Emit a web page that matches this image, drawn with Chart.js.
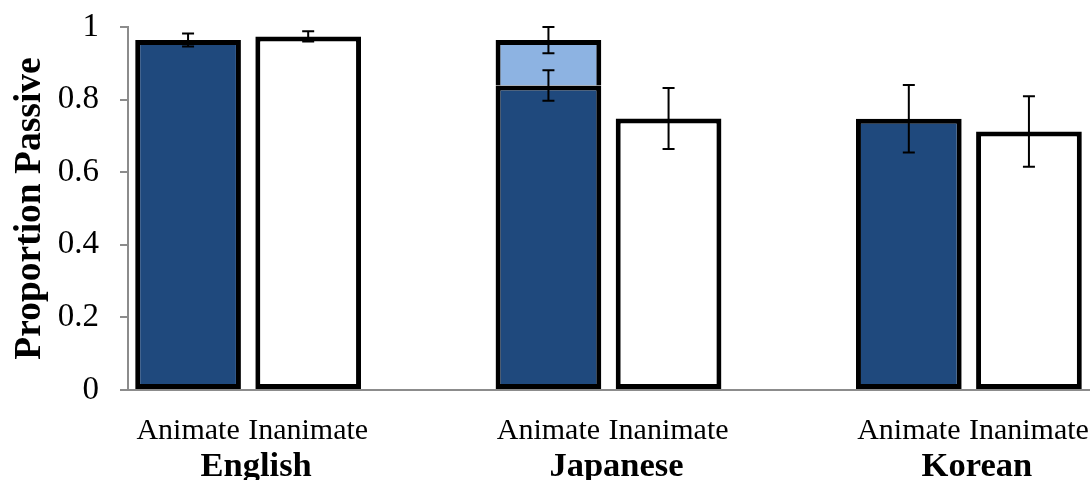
<!DOCTYPE html>
<html>
<head>
<meta charset="utf-8">
<script src="https://cdn.jsdelivr.net/npm/chart.js@4/dist/chart.umd.min.js"></script>
<style>
  body { margin: 0; background: #fff; }
  #wrap { width: 1092px; height: 480px; }
</style>
</head>
<body>
<div id="wrap"><canvas id="passiveChart" width="1092" height="480"></canvas></div>
<script>
// categories along the x axis (blank ones are the gaps between languages)
var categories = ['Animate', 'Inanimate', '', 'Animate', 'Inanimate', '', 'Animate', 'Inanimate'];
var groupNames = ['English', 'Japanese', 'Korean'];
var groupCentres = [0.5, 3.5, 6.5];

// proportion passive per bar, and the extra light segment on Japanese animate
var baseValues = [0.964, 0.974, null, 0.839, 0.748, null, 0.747, 0.712];
var extraValues = [null, null, null, 0.125, null, null, null, null];

// +/- error for each segment
var baseErrors = [0.018, 0.014, null, 0.042, 0.084, null, 0.093, 0.097];
var extraErrors = [null, null, null, 0.036, null, null, null, null];

var yTicks = [0, 0.2, 0.4, 0.6, 0.8, 1];

var darkBlue = '#1f497d';
var lightBlue = '#8db3e2';
var serif = "'Liberation Serif', 'Times New Roman', serif";

// draws the error bars on top of the stacked bars
var errorBarPlugin = {
    id: 'errorBars',
    afterDatasetsDraw: function(chart) {
        var ctx = chart.ctx;
        var x = chart.scales.x;
        var y = chart.scales.y;
        var sets = [[baseValues, baseErrors, null], [extraValues, extraErrors, baseValues]];
        ctx.save();
        ctx.strokeStyle = '#000';
        ctx.lineWidth = 2;
        sets.forEach(function(s) {
            s[0].forEach(function(v, i) {
                if (v === null || s[1][i] === null) return;
                var top = v + (s[2] ? s[2][i] : 0);
                var px = x.getPixelForValue(i);
                var hi = y.getPixelForValue(top + s[1][i]);
                var lo = y.getPixelForValue(top - s[1][i]);
                ctx.beginPath();
                ctx.moveTo(px, hi); ctx.lineTo(px, lo);
                ctx.moveTo(px - 6, hi); ctx.lineTo(px + 6, hi);
                ctx.moveTo(px - 6, lo); ctx.lineTo(px + 6, lo);
                ctx.stroke();
            });
        });
        ctx.restore();
    }
};

// axes should not push the plot area around; layout padding sets it
function noXPadding(scale) { scale.paddingLeft = 0; scale.paddingRight = 0; }

var ctx = document.getElementById('passiveChart').getContext('2d');

var passiveChart = new Chart(ctx, {
    type: 'bar',
    data: {
        labels: categories,
        datasets: [{
            label: 'base',
            data: baseValues,
            backgroundColor: function(c) {
                return categories[c.dataIndex] === 'Animate' ? darkBlue : '#ffffff';
            },
            borderColor: '#000',
            borderWidth: 5,
            borderSkipped: false,
            barPercentage: 0.88,
            categoryPercentage: 1
        }, {
            label: 'extra',
            data: extraValues,
            backgroundColor: lightBlue,
            borderColor: '#000',
            borderWidth: 5,
            borderSkipped: 'start',
            barPercentage: 0.88,
            categoryPercentage: 1
        }]
    },
    options: {
        responsive: false,
        devicePixelRatio: 1,
        animation: false,
        layout: { padding: { top: 27, right: 3, left: 0, bottom: 0 } },
        plugins: {
            legend: { display: false },
            tooltip: { enabled: false }
        },
        scales: {
            x: {
                stacked: true,
                grid: { display: false },
                border: { color: '#8c8c8c', width: 2 },
                ticks: {
                    color: '#000',
                    padding: 15,
                    autoSkip: false,
                    maxRotation: 0,
                    minRotation: 0,
                    font: { family: serif, size: 30 }
                },
                afterFit: function(scale) { scale.height = 52; noXPadding(scale); }
            },
            x2: {
                type: 'linear',
                position: 'bottom',
                offset: false,
                min: -0.5,
                max: 7.5,
                grid: { display: false },
                border: { display: false },
                afterBuildTicks: function(scale) {
                    scale.ticks = groupCentres.map(function(v) { return { value: v }; });
                },
                ticks: {
                    color: '#000',
                    padding: -4,
                    labelOffset: 8,
                    autoSkip: false,
                    maxRotation: 0,
                    minRotation: 0,
                    font: { family: serif, size: 34.5, weight: 'bold' },
                    callback: function(value) {
                        return groupNames[groupCentres.indexOf(value)];
                    }
                },
                afterFit: function(scale) { scale.height = 38; noXPadding(scale); }
            },
            y: {
                stacked: true,
                min: 0,
                max: 1,
                afterBuildTicks: function(scale) {
                    scale.ticks = yTicks.map(function(v) { return { value: v }; });
                },
                grid: {
                    drawOnChartArea: false,
                    color: '#8c8c8c',
                    lineWidth: 2,
                    tickLength: 8
                },
                border: { color: '#8c8c8c', width: 2 },
                ticks: {
                    color: '#000',
                    padding: 21,
                    font: { family: serif, size: 33 },
                    callback: function(value) { return String(+value.toFixed(1)); }
                },
                title: {
                    display: true,
                    text: 'Proportion Passive',
                    color: '#000',
                    padding: { top: 8, bottom: 0 },
                    font: { family: serif, size: 37.5, weight: 'bold' }
                },
                afterFit: function(scale) {
                    scale.width = 128;
                    scale.paddingTop = 0;
                    scale.paddingBottom = 0;
                }
            }
        }
    },
    plugins: [errorBarPlugin]
});
</script>
</body>
</html>
